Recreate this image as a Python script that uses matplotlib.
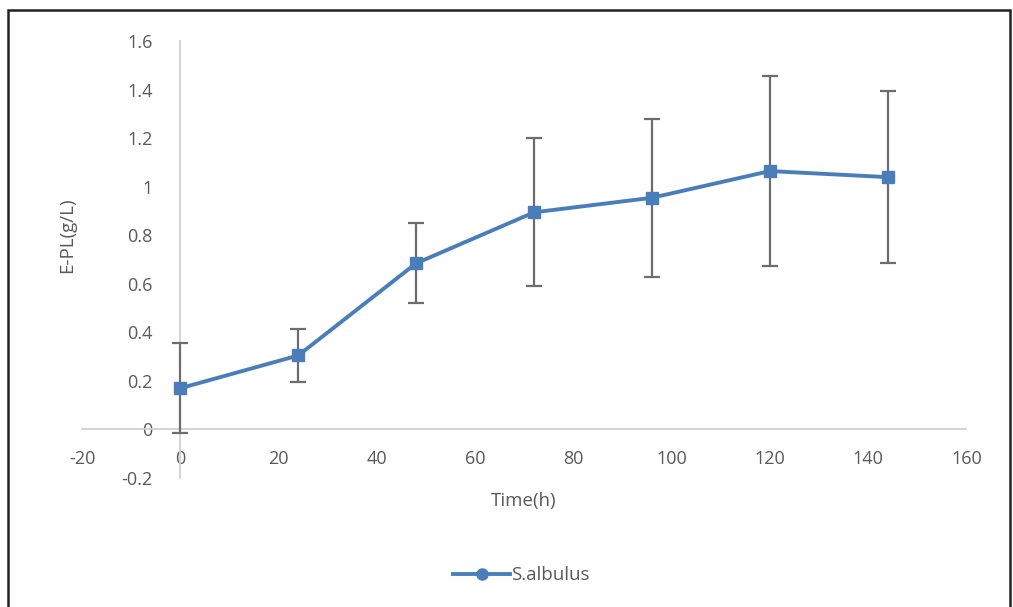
import matplotlib.pyplot as plt
from matplotlib.patches import Rectangle
from matplotlib.lines import Line2D

# data
time_h = [0, 24, 48, 72, 96, 120, 144]
epl = [0.17, 0.305, 0.685, 0.895, 0.955, 1.065, 1.04]
epl_err = [0.185, 0.11, 0.165, 0.305, 0.325, 0.39, 0.355]
x_ticks = [-20, 0, 20, 40, 60, 80, 100, 120, 140, 160]
y_ticks = [-0.2, 0, 0.2, 0.4, 0.6, 0.8, 1, 1.2, 1.4, 1.6]
y_tick_labels = ['-0.2', '0', '0.2', '0.4', '0.6', '0.8', '1', '1.2', '1.4', '1.6']

plt.rcParams['font.family'] = ['Open Sans', 'DejaVu Sans']
plt.rcParams['axes.unicode_minus'] = False
text_color = '#595959'
blue = '#4A7EBB'

fig = plt.figure(figsize=(10.13, 6.07), dpi=100)
ax = fig.add_axes([0.081, 0.2125, 0.873, 0.7195])

ax.errorbar(time_h, epl, yerr=epl_err, color=blue, lw=2.8, marker='s', ms=8.5,
            ecolor='#6d6d6d', elinewidth=1.6, capsize=6, capthick=1.6, zorder=3)

ax.set_xlim(-20, 160)
ax.set_ylim(-0.2, 1.6)
ax.set_xticks(x_ticks)
ax.set_yticks(y_ticks)
ax.set_yticklabels(y_tick_labels)

for s in ['top', 'right']:
    ax.spines[s].set_visible(False)
ax.spines['left'].set_position(('data', 0))
ax.spines['bottom'].set_position(('data', 0))
ax.spines['left'].set_color('#d0d0d0')
ax.spines['bottom'].set_color('#d0d0d0')
ax.spines['left'].set_linewidth(1.3)
ax.spines['bottom'].set_linewidth(1.3)

ax.tick_params(axis='both', length=0, labelsize=13, colors=text_color)
ax.tick_params(axis='y', pad=20)
ax.tick_params(axis='x', pad=15)

fig.text(0.066, 0.612, 'E-PL(g/L)', rotation=90, ha='center', va='center',
         fontsize=13.5, color=text_color)
fig.text(0.517, 0.175, 'Time(h)', ha='center', va='center',
         fontsize=13.5, color=text_color)

handle = Line2D([], [], color=blue, lw=2.8, marker='o', ms=8)
fig.legend([handle], ['S.albulus'], loc='center', bbox_to_anchor=(0.515, 0.052),
           frameon=False, fontsize=13.5, labelcolor=text_color, handlelength=3,
           handletextpad=0.1)

# outer frame like the pasted chart
fig.patches.append(Rectangle((0.008, -0.05), 0.989, 1.033, transform=fig.transFigure,
                             fill=False, edgecolor='#222222', lw=1.8))

fig.savefig('out.png', dpi=100)
